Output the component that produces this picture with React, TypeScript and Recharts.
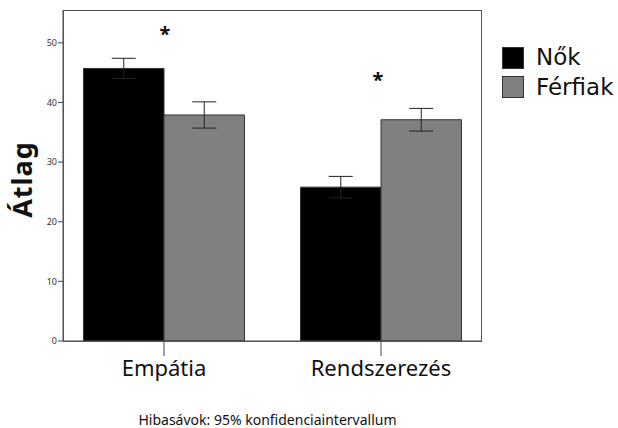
import React from 'react';
import { BarChart, Bar, XAxis, YAxis, ErrorBar, ReferenceDot } from 'recharts';

const categories = ['Empátia', 'Rendszerezés'];
const seriesNames = ['Nők', 'Férfiak'];
const seriesColors = ['#000000', '#808080'];
const nokValues = [45.7, 25.8];
const nokErrors = [1.7, 1.8];
const ferfiakValues = [37.9, 37.1];
const ferfiakErrors = [2.2, 1.9];
const significanceY = [51.8, 44.1];
const yTicks = [0, 10, 20, 30, 40, 50];
const xTicks = categories.map((_, i) => i);

const data = categories.map((c, i) => ({
  idx: i,
  category: c,
  nok: nokValues[i],
  nokErr: nokErrors[i],
  ferfiak: ferfiakValues[i],
  ferfiakErr: ferfiakErrors[i],
}));

const FONT = '"Noto Sans", "DejaVu Sans", sans-serif';
const LEGEND_FONT = '"DejaVu Sans", sans-serif';

export default function App() {
  return (
    <div style={{ position: 'absolute', left: 0, top: 0, width: 618, height: 428, background: '#fff' }}>
      <BarChart
        width={618}
        height={428}
        data={data}
        margin={{ top: 10, right: 136, bottom: 0, left: 0 }}
        barGap={0}
        barSize={80.5}
      >
        <XAxis
          dataKey="idx"
          type="number"
          domain={[-0.4654, 1.4654]}
          ticks={xTicks}
          tickFormatter={(v: number) => categories[v]}
          height={87}
          tickSize={15}
          tickMargin={4}
          stroke="#444"
          axisLine={{ stroke: '#444' }}
          tickLine={{ stroke: '#444' }}
          tick={{ fill: '#111', fontSize: 22, fontFamily: FONT }}
        />
        <YAxis
          width={63}
          domain={[0, 55.5]}
          ticks={yTicks}
          tickSize={5}
          tickMargin={1}
          allowDataOverflow
          stroke="#444"
          tick={{ fill: '#333', fontSize: 9, fontFamily: FONT }}
          label={{
            value: 'Átlag',
            angle: -90,
            position: 'center',
            dx: -9,
            dy: 4,
            style: { fontSize: 27, fontWeight: 'bold', fill: '#111', fontFamily: FONT, letterSpacing: 1 },
          }}
        />
        <Bar dataKey="nok" name={seriesNames[0]} fill={seriesColors[0]} stroke="#333" strokeWidth={1} isAnimationActive={false}>
          <ErrorBar dataKey="nokErr" width={12} stroke="#222" strokeWidth={1} />
        </Bar>
        <Bar dataKey="ferfiak" name={seriesNames[1]} fill={seriesColors[1]} stroke="#333" strokeWidth={1} isAnimationActive={false}>
          <ErrorBar dataKey="ferfiakErr" width={12} stroke="#222" strokeWidth={1} />
        </Bar>
        {categories.map((c, i) => (
          <ReferenceDot
            key={c}
            x={i}
            y={significanceY[i]}
            r={0}
            ifOverflow="visible"
            label={{ value: '*', position: 'center', dx: i === 1 ? -3 : 1, dy: 2, style: { fontSize: 20, fontWeight: 'bold', fill: '#111', fontFamily: FONT } }}
          />
        ))}
      </BarChart>
      <div
        style={{
          position: 'absolute',
          left: 63,
          top: 10,
          width: 419,
          height: 332,
          border: '1px solid #555',
          boxSizing: 'border-box',
          pointerEvents: 'none',
        }}
      />
      <div style={{ position: 'absolute', left: 502, top: 43, fontFamily: LEGEND_FONT }}>
        {seriesNames.map((n, i) => (
          <div key={n} style={{ display: 'flex', alignItems: 'center', height: 29.5 }}>
            <div
              style={{
                width: 22,
                height: 22,
                background: seriesColors[i],
                border: '1px solid #333',
                boxSizing: 'border-box',
                marginRight: 12,
                flex: 'none',
              }}
            />
            <div style={{ fontSize: 23, lineHeight: '29px', height: 29, color: '#111', whiteSpace: 'nowrap' }}>{n}</div>
          </div>
        ))}
      </div>
      <div
        style={{
          position: 'absolute',
          left: 0,
          width: 535,
          top: 411,
          textAlign: 'center',
          fontFamily: FONT,
          fontSize: 14,
          lineHeight: '18px',
          color: '#111',
        }}
      >
        Hibasávok: 95% konfidenciaintervallum
      </div>
    </div>
  );
}
